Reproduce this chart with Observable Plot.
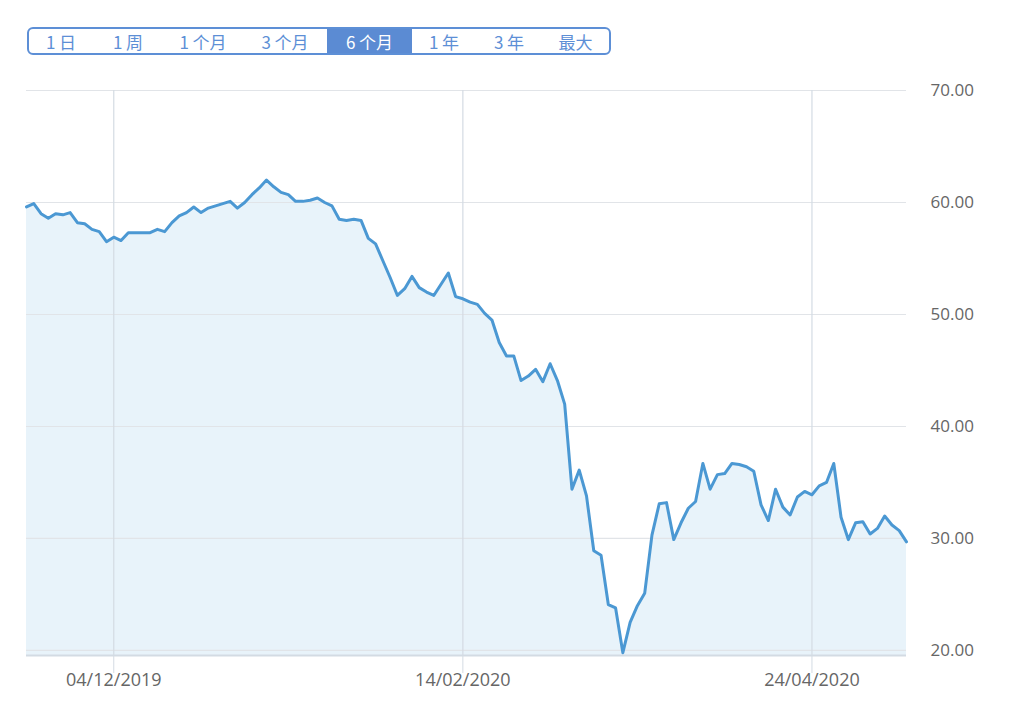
<!DOCTYPE html>
<html>
<head>
<meta charset="utf-8">
<script src="https://cdn.jsdelivr.net/npm/d3@7"></script>
<script src="https://cdn.jsdelivr.net/npm/@observablehq/plot@0.6"></script>
<style>
  html, body { margin: 0; padding: 0; background: #fff; }
  #wrap { position: relative; width: 1024px; height: 705px; overflow: hidden; }
  #bar { position: absolute; left: 27px; top: 27px; height: 28px; box-sizing: border-box;
         border: 2px solid #5d8fd6; border-radius: 6px; display: flex; overflow: hidden;
         font-family: "Noto Sans CJK SC", "Noto Sans", sans-serif; font-size: 17px; color: #5d8fd6; }
  #bar span { display: flex; align-items: center; justify-content: center; height: 100%; white-space: pre; }
  #bar span.sel { background: #5b8bd3; color: #fff; }
  #chart { position: absolute; left: 0; top: 70px; }
</style>
</head>
<body>
<div id="wrap">
  <div id="bar"></div>
  <div id="chart"></div>
</div>
<script>
// Range buttons
const buttonLabels = ["1 日", "1 周", "1 个月", "3 个月", "6 个月", "1 年", "3 年", "最大"];
const buttonWidths = [64, 70, 80, 84, 85, 64, 66, 67];
const selectedButton = "6 个月";

// Price series (one value per trading day, ~Nov 2019 – May 2020)
const values = [
  59.6, 59.9, 59.0, 58.6, 59.0, 58.9, 59.1, 58.2, 58.1, 57.6,
  57.4, 56.5, 56.9, 56.6, 57.3, 57.3, 57.3, 57.3, 57.6, 57.4,
  58.2, 58.8, 59.1, 59.6, 59.1, 59.5, 59.7, 59.9, 60.1, 59.5,
  60.0, 60.7, 61.3, 62.0, 61.4, 60.9, 60.7, 60.1, 60.1, 60.2,
  60.4, 60.0, 59.7, 58.5, 58.4, 58.5, 58.4, 56.8, 56.3, 54.8,
  53.3, 51.7, 52.3, 53.4, 52.4, 52.0, 51.7, 52.7, 53.7, 51.6,
  51.4, 51.1, 50.9, 50.1, 49.5, 47.5, 46.3, 46.3, 44.1, 44.5,
  45.1, 44.0, 45.6, 44.1, 42.0, 34.4, 36.1, 33.8, 28.9, 28.5,
  24.1, 23.8, 19.8, 22.5, 24.0, 25.1, 30.3, 33.1, 33.2, 29.9,
  31.4, 32.7, 33.3, 36.7, 34.4, 35.7, 35.8, 36.7, 36.6, 36.4,
  36.0, 33.0, 31.6, 34.4, 32.8, 32.1, 33.7, 34.2, 33.9, 34.7,
  35.0, 36.7, 31.9, 29.9, 31.4, 31.5, 30.4, 30.9, 32.0, 31.2,
  30.7, 29.7
];

// X tick positions (trading-day index) and labels
const xTickIdx = [12, 60, 108];
const xTickLabels = ["04/12/2019", "14/02/2020", "24/04/2020"];

// Y axis
const yTicks = [20, 30, 40, 50, 60, 70];
const yDomain = [19.55, 70];

// Build buttons
const bar = document.getElementById("bar");
buttonLabels.forEach((lab, i) => {
  const s = document.createElement("span");
  s.textContent = lab;
  s.style.width = buttonWidths[i] + "px";
  if (lab === selectedButton) s.className = "sel";
  bar.appendChild(s);
});

const data = values.map((v, i) => ({i, v}));

const chart = Plot.plot({
  width: 1024,
  height: 635,
  marginTop: 20,
  marginBottom: 50,
  marginLeft: 26,
  marginRight: 118,
  style: {fontFamily: "'Open Sans', sans-serif", background: "transparent", overflow: "visible"},
  x: {domain: [0, values.length - 1], axis: null, label: null},
  y: {domain: yDomain, axis: null, label: null},
  marks: [
    Plot.areaY(data, {x: "i", y1: yDomain[0], y2: "v", fill: "#e8f3fa"}),
    Plot.ruleY(yTicks, {stroke: "#e1e4e8", strokeWidth: 1.2}),
    Plot.ruleX(xTickIdx, {y1: yDomain[1], y2: yDomain[0], stroke: "#d4dbe3", strokeWidth: 1.2}),
    Plot.ruleY([yDomain[0]], {stroke: "#d3dbe3", strokeWidth: 2}),
    Plot.lineY(data, {x: "i", y: "v", stroke: "#4b98d3", strokeWidth: 3, strokeLinejoin: "round"}),
    Plot.axisX(xTickIdx, {
      anchor: "bottom",
      label: null,
      tickSize: 18,
      tickPadding: 0,
      stroke: "#d4dbe3",
      fontSize: 18,
      fill: "#666",
      tickFormat: d => xTickLabels[xTickIdx.indexOf(d)]
    }),
    Plot.axisY(yTicks, {
      anchor: "right",
      label: null,
      tickSize: 0,
      tickPadding: 24,
      fontSize: 17,
      fill: "#666",
      textAnchor: "start",
      tickFormat: d => d.toFixed(2)
    })
  ]
});
document.getElementById("chart").appendChild(chart);
</script>
</body>
</html>
